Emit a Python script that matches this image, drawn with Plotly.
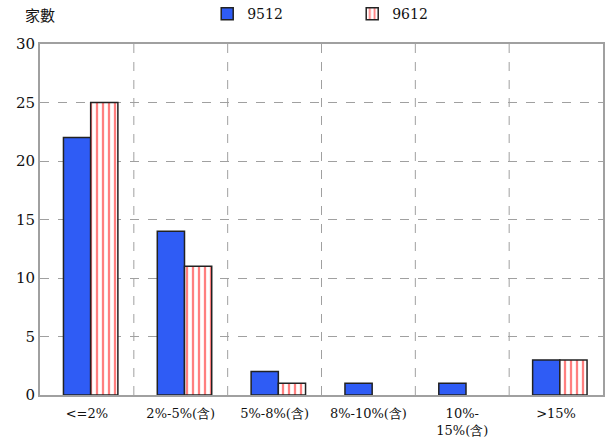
import plotly.graph_objects as go

categories = ["<=2%", "2%-5%(含)", "5%-8%(含)", "8%-10%(含)", "10%-<br>15%(含)", ">15%"]
series_9512 = [22, 14, 2, 1, 1, 3]
series_9612 = [25, 11, 1, 0, 0, 3]
y_ticks = [0, 5, 10, 15, 20, 25, 30]

FONT = "DejaVu Serif"

def outline(vals):
    return [1.5 if v > 0 else 0 for v in vals]

fig = go.Figure()
fig.add_trace(go.Bar(
    x=categories, y=series_9512, name="9512", width=0.29, offset=-0.25,
    marker=dict(color="#2f5cf5", line=dict(color="#222222", width=outline(series_9512))),
))
fig.add_trace(go.Bar(
    x=categories, y=series_9612, name="9612", width=0.29, offset=0.04,
    marker=dict(color="white", line=dict(color="#222222", width=outline(series_9612)),
                pattern=dict(shape="|", fgcolor="#ff0000", bgcolor="white", size=6, solidity=0.38)),
))

fig.update_layout(
    width=605, height=448,
    margin=dict(l=40, r=2, t=44, b=53, autoexpand=False),
    paper_bgcolor="white", plot_bgcolor="white",
    barmode="group", bargap=0.42, bargroupgap=0,
    font=dict(family=FONT, size=13, color="#111111"),
    showlegend=True,
    legend=dict(orientation="h", x=0.297, xanchor="left", y=1.085, yanchor="middle",
                font=dict(size=14), itemwidth=30, entrywidth=100, bgcolor="rgba(0,0,0,0)"),
    annotations=[dict(text="家數", x=-0.03, xref="paper", y=1.085, yref="paper",
                      showarrow=False, xanchor="left", yanchor="middle",
                      font=dict(size=15, family="Noto Sans CJK TC"))],
    xaxis=dict(showline=True, linecolor="#a0a0a0", linewidth=2, mirror=True,
               showgrid=False, ticks="", tickfont=dict(size=13), ticklabelstandoff=5),
    yaxis=dict(range=[0, 30], tickvals=y_ticks, showline=True, linecolor="#a0a0a0",
               linewidth=2, mirror=True, showgrid=True, gridcolor="#a0a0a0",
               griddash="dash", gridwidth=1, zeroline=False, ticks="",
               tickfont=dict(size=15)),
)

for i in range(1, len(categories)):
    fig.add_shape(type="line", xref="x", yref="paper", x0=i - 0.5, x1=i - 0.5, y0=0, y1=1,
                  line=dict(color="#a0a0a0", width=1, dash="dash"), layer="below")

fig.write_html("out.html", config={"displayModeBar": False},
               post_script="document.body.style.margin='0';")
